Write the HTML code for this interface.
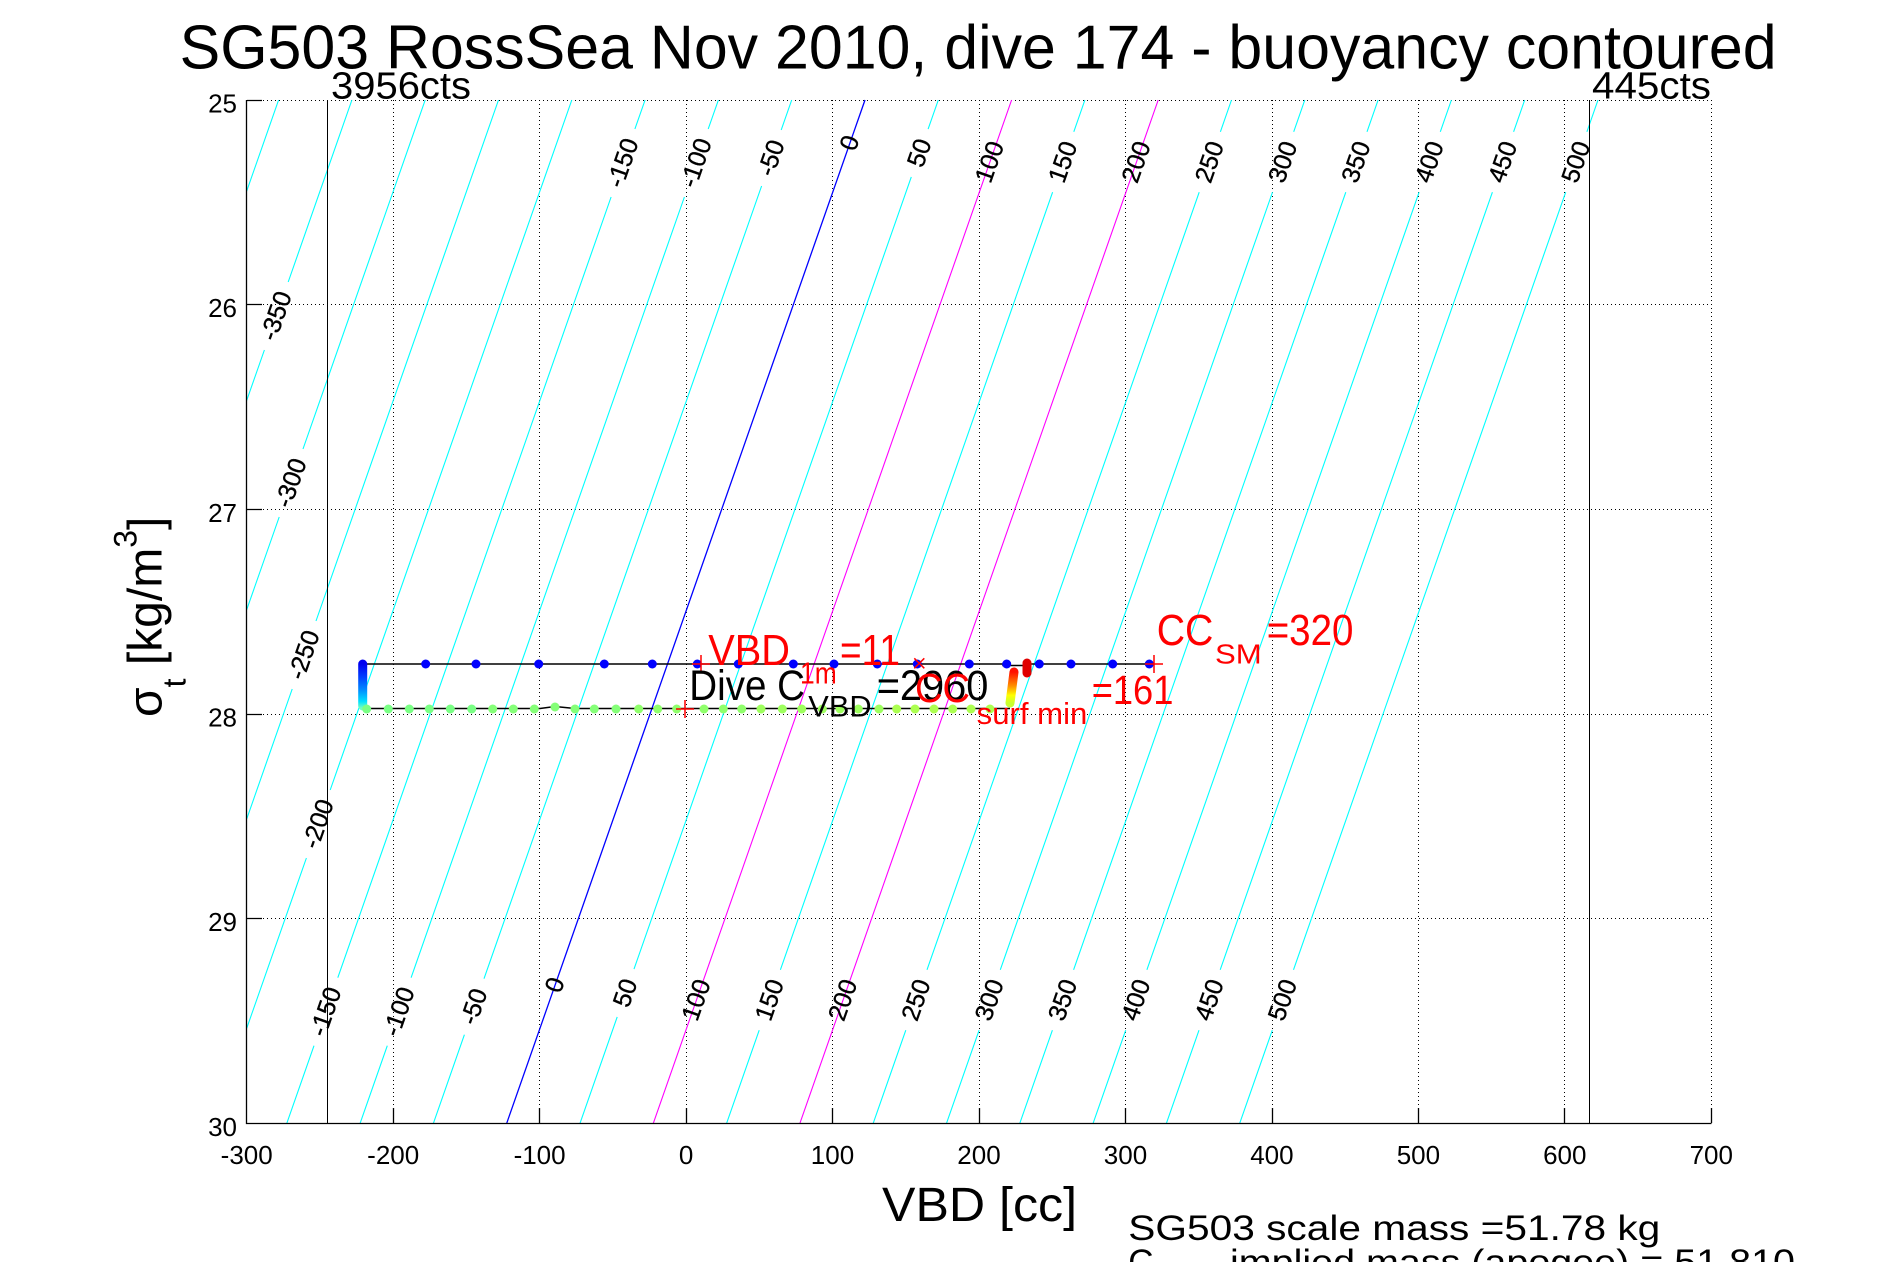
<!DOCTYPE html>
<html><head><meta charset="utf-8"><style>html,body{margin:0;padding:0;background:#fff;overflow:hidden}svg{display:block}</style></head>
<body>
<svg width="1891" height="1262" viewBox="0 0 1891 1262" xmlns="http://www.w3.org/2000/svg" font-family="'Liberation Sans', Arial, sans-serif">
<rect width="1891" height="1262" fill="#fff"/>
<defs>
<linearGradient id="gl" gradientUnits="userSpaceOnUse" x1="0" y1="664" x2="0" y2="708">
<stop offset="0" stop-color="#0000f0"/><stop offset="0.3" stop-color="#0040ff"/><stop offset="0.6" stop-color="#0090ff"/><stop offset="0.85" stop-color="#00e0ff"/><stop offset="1" stop-color="#70ffc0"/>
</linearGradient>
<linearGradient id="gr" gradientUnits="userSpaceOnUse" x1="0" y1="703" x2="0" y2="672">
<stop offset="0" stop-color="#c8ff30"/><stop offset="0.25" stop-color="#ffff00"/><stop offset="0.55" stop-color="#ff9000"/><stop offset="1" stop-color="#ff1000"/>
</linearGradient>
</defs>

<!-- grid -->
<g stroke="#000" stroke-width="1" stroke-dasharray="1 3" fill="none">
<path d="M393.5,100V1123 M539.5,100V1123 M686.5,100V1123 M832.5,100V1123 M979.5,100V1123 M1125.5,100V1123 M1272.5,100V1123 M1418.5,100V1123 M1564.5,100V1123 M1711.5,100V1123"/>
<path d="M247,100.5H1711 M247,304.5H1711 M247,509.5H1711 M247,714.5H1711 M247,918.5H1711"/>
</g>

<!-- cyan contours -->
<g stroke="#00ffff" stroke-width="1.1" fill="none">
<path d="M278.6,100 L246.7,191.1"/>
<path d="M351.9,100 L288.2,282 M264.4,350 L246.7,400.4"/>
<path d="M425.2,100 L303,449 M279.2,517 L246.7,609.7"/>
<path d="M498.5,100 L316,621 M292.2,689 L246.7,819"/>
<path d="M571.8,100 L330.2,790 M306.4,858 L246.7,1028.3"/>
<path d="M645.1,100 L634.9,129 M611.1,197 L337.8,977.7 M314,1045.7 L286.8,1123.3"/>
<path d="M718.4,100 L708.2,129 M684.4,197 L411.1,977.7 M387.3,1045.7 L360.1,1123.3"/>
<path d="M791.7,100 L781.2,130 M761.6,186 L484,978.7 M464.4,1034.7 L433.4,1123.3"/>
<path d="M938.3,100 L928.1,129.1 M911.3,176.9 L634,969.1 M617.2,1016.9 L580,1123.3"/>
<path d="M1084.9,100 L1073.8,131.8 M1052.6,192.2 L780.4,969.8 M759.2,1030.2 L726.6,1123.3"/>
<path d="M1231.5,100 L1220.4,131.8 M1199.2,192.2 L927,969.8 M905.8,1030.2 L873.2,1123.3"/>
<path d="M1304.8,100 L1293.7,131.8 M1272.5,192.2 L1000.3,969.8 M979.1,1030.2 L946.5,1123.3"/>
<path d="M1378.1,100 L1367,131.8 M1345.8,192.2 L1073.6,969.8 M1052.4,1030.2 L1019.8,1123.3"/>
<path d="M1451.4,100 L1440.3,131.8 M1419.1,192.2 L1146.9,969.8 M1125.7,1030.2 L1093.1,1123.3"/>
<path d="M1524.7,100 L1513.6,131.8 M1492.4,192.2 L1220.2,969.8 M1199,1030.2 L1166.4,1123.3"/>
<path d="M1598,100 L1586.9,131.8 M1565.7,192.2 L1293.5,969.8 M1272.3,1030.2 L1239.7,1123.3"/>
</g>
<path d="M865,100 L506.7,1123.3" stroke="#0000ff" stroke-width="1.3" fill="none"/>
<path d="M1011.6,100 L653.3,1123.3 M1158.2,100 L799.9,1123.3" stroke="#ff00ff" stroke-width="1.1" fill="none"/>

<!-- contour labels -->
<g font-size="25" fill="#000" stroke="#000" stroke-width="0.35" text-anchor="middle">
<text transform="translate(276.3 316) rotate(-70.7)" dy="8">-350</text>
<text transform="translate(291.1 483) rotate(-70.7)" dy="8">-300</text>
<text transform="translate(304.1 655) rotate(-70.7)" dy="8">-250</text>
<text transform="translate(318.3 824) rotate(-70.7)" dy="8">-200</text>
<text transform="translate(623 163) rotate(-70.7)" dy="8">-150</text>
<text transform="translate(696.3 163) rotate(-70.7)" dy="8">-100</text>
<text transform="translate(771.4 158) rotate(-70.7)" dy="8">-50</text>
<text transform="translate(849.9 143) rotate(-70.7)" dy="8">0</text>
<text transform="translate(919.7 153) rotate(-70.7)" dy="8">50</text>
<text transform="translate(989.9 162) rotate(-70.7)" dy="8">100</text>
<text transform="translate(1063.2 162) rotate(-70.7)" dy="8">150</text>
<text transform="translate(1136.5 162) rotate(-70.7)" dy="8">200</text>
<text transform="translate(1209.8 162) rotate(-70.7)" dy="8">250</text>
<text transform="translate(1283.1 162) rotate(-70.7)" dy="8">300</text>
<text transform="translate(1356.4 162) rotate(-70.7)" dy="8">350</text>
<text transform="translate(1429.7 162) rotate(-70.7)" dy="8">400</text>
<text transform="translate(1503 162) rotate(-70.7)" dy="8">450</text>
<text transform="translate(1576.3 162) rotate(-70.7)" dy="8">500</text>
<text transform="translate(325.9 1011.7) rotate(-70.7)" dy="8">-150</text>
<text transform="translate(399.2 1011.7) rotate(-70.7)" dy="8">-100</text>
<text transform="translate(474.2 1006.7) rotate(-70.7)" dy="8">-50</text>
<text transform="translate(555.1 985) rotate(-70.7)" dy="8">0</text>
<text transform="translate(625.6 993) rotate(-70.7)" dy="8">50</text>
<text transform="translate(696.5 1000) rotate(-70.7)" dy="8">100</text>
<text transform="translate(769.8 1000) rotate(-70.7)" dy="8">150</text>
<text transform="translate(843.1 1000) rotate(-70.7)" dy="8">200</text>
<text transform="translate(916.4 1000) rotate(-70.7)" dy="8">250</text>
<text transform="translate(989.7 1000) rotate(-70.7)" dy="8">300</text>
<text transform="translate(1063 1000) rotate(-70.7)" dy="8">350</text>
<text transform="translate(1136.3 1000) rotate(-70.7)" dy="8">400</text>
<text transform="translate(1209.6 1000) rotate(-70.7)" dy="8">450</text>
<text transform="translate(1282.9 1000) rotate(-70.7)" dy="8">500</text>
</g>

<!-- vertical count lines -->
<path d="M327.5,100V1123 M1589.5,100V1123" stroke="#000" stroke-width="1" fill="none"/>

<!-- axes -->
<g stroke="#000" stroke-width="1.3" fill="none">
<path d="M246.5,100V1123.5H1711.5"/>
<path d="M393.5,1123V1108 M539.5,1123V1108 M686.5,1123V1108 M832.5,1123V1108 M979.5,1123V1108 M1125.5,1123V1108 M1272.5,1123V1108 M1418.5,1123V1108 M1564.5,1123V1108 M1711.5,1123V1108"/>
<path d="M247,100.5H262 M247,304.5H262 M247,509.5H262 M247,714.5H262 M247,918.5H262"/>
</g>

<!-- tick labels -->
<g font-size="26" fill="#000" text-anchor="middle">
<text x="246.7" y="1164">-300</text>
<text x="393.2" y="1164">-200</text>
<text x="539.6" y="1164">-100</text>
<text x="686.1" y="1164">0</text>
<text x="832.5" y="1164">100</text>
<text x="979" y="1164">200</text>
<text x="1125.5" y="1164">300</text>
<text x="1271.9" y="1164">400</text>
<text x="1418.4" y="1164">500</text>
<text x="1564.8" y="1164">600</text>
<text x="1711.3" y="1164">700</text>
</g>
<g font-size="26" fill="#000" text-anchor="end">
<text x="237" y="112.5">25</text>
<text x="237" y="317.2">26</text>
<text x="237" y="521.8">27</text>
<text x="237" y="726.5">28</text>
<text x="237" y="931.2">29</text>
<text x="237" y="1135.8">30</text>
</g>

<!-- data trace -->
<path d="M362.7,664 H1003 V665.5 H1025 V664 H1154" stroke="#000" stroke-width="1.5" fill="none"/>
<path d="M362.7,708.5 H540 L555,706.5 L575,708.5 H1010" stroke="#000" stroke-width="1.5" fill="none"/>
<line x1="362.7" y1="664" x2="362.7" y2="706" stroke="url(#gl)" stroke-width="9" stroke-linecap="round"/>
<g fill="#0000ff">
<circle cx="425.7" cy="664" r="4.5"/><circle cx="476" cy="664" r="4.5"/><circle cx="538.7" cy="664" r="4.5"/><circle cx="604.3" cy="664" r="4.5"/><circle cx="652.3" cy="664" r="4.5"/><circle cx="697.3" cy="664" r="4.5"/><circle cx="738.3" cy="664" r="4.5"/><circle cx="793.3" cy="664" r="4.5"/><circle cx="834" cy="664" r="4.5"/><circle cx="877.3" cy="664" r="4.5"/><circle cx="917.3" cy="664" r="4.5"/><circle cx="969.3" cy="664" r="4.5"/><circle cx="1006.7" cy="664" r="4.5"/><circle cx="1039.3" cy="664" r="4.5"/><circle cx="1071" cy="664" r="4.5"/><circle cx="1112.7" cy="664" r="4.5"/><circle cx="1149.3" cy="664" r="4.5"/>
</g>
<g>
<circle cx="366.7" cy="709" r="4.5" fill="#7aff85"/><circle cx="388.3" cy="709" r="4.5" fill="#7aff85"/><circle cx="409.3" cy="709" r="4.5" fill="#7aff85"/><circle cx="429.3" cy="709" r="4.5" fill="#7aff85"/><circle cx="450.3" cy="709" r="4.5" fill="#7aff85"/><circle cx="471.7" cy="709" r="4.5" fill="#7aff85"/>
<circle cx="492.7" cy="709" r="4.5" fill="#85ff78"/><circle cx="513.3" cy="709" r="4.5" fill="#85ff78"/><circle cx="534.3" cy="709" r="4.5" fill="#85ff78"/><circle cx="555" cy="707" r="4.5" fill="#85ff78"/><circle cx="575" cy="709" r="4.5" fill="#85ff78"/><circle cx="594.3" cy="709" r="4.5" fill="#85ff78"/><circle cx="616" cy="709" r="4.5" fill="#85ff78"/>
<circle cx="638.7" cy="709" r="4.5" fill="#90ff6c"/><circle cx="657.7" cy="709" r="4.5" fill="#90ff6c"/><circle cx="676.7" cy="709" r="4.5" fill="#90ff6c"/><circle cx="704" cy="709" r="4.5" fill="#90ff6c"/><circle cx="723.3" cy="709" r="4.5" fill="#90ff6c"/><circle cx="741.7" cy="709" r="4.5" fill="#90ff6c"/>
<circle cx="761" cy="709" r="4.5" fill="#9eff5e"/><circle cx="782.3" cy="709" r="4.5" fill="#9eff5e"/><circle cx="801.7" cy="709" r="4.5" fill="#9eff5e"/><circle cx="822.3" cy="709" r="4.5" fill="#9eff5e"/><circle cx="840" cy="709" r="4.5" fill="#9eff5e"/><circle cx="858.3" cy="709" r="4.5" fill="#9eff5e"/><circle cx="879" cy="709" r="4.5" fill="#9eff5e"/>
<circle cx="896.7" cy="709" r="4.5" fill="#acff50"/><circle cx="915" cy="709" r="4.5" fill="#acff50"/><circle cx="934" cy="709" r="4.5" fill="#acff50"/><circle cx="952.7" cy="709" r="4.5" fill="#acff50"/><circle cx="971" cy="709" r="4.5" fill="#acff50"/><circle cx="990" cy="709" r="4.5" fill="#acff50"/>
</g>
<line x1="1010" y1="703" x2="1014" y2="672" stroke="url(#gr)" stroke-width="9" stroke-linecap="round"/>
<line x1="1027" y1="663" x2="1027" y2="673" stroke="#e00000" stroke-width="9" stroke-linecap="round"/>

<!-- red markers -->
<g stroke="#ff0000" stroke-width="1.5" fill="none">
<path d="M692,664H710 M701,655V673"/>
<path d="M676,709H694 M685,700V718"/>
<path d="M1145,664H1163 M1154,655V673"/>
<path d="M914.3,658.3L924.3,668.3 M914.3,668.3L924.3,658.3"/>
</g>

<!-- annotations -->
<text x="689.3" y="700" font-size="43" fill="#000" textLength="115.7" lengthAdjust="spacingAndGlyphs">Dive C</text>
<text x="808.3" y="716.7" font-size="30" fill="#000" textLength="63.3" lengthAdjust="spacingAndGlyphs">VBD</text>
<text x="876.7" y="700" font-size="43" fill="#000" textLength="111.7" lengthAdjust="spacingAndGlyphs">=2960</text>

<text x="708.3" y="665" font-size="44" fill="#ff0000" textLength="81.7" lengthAdjust="spacingAndGlyphs">VBD</text>
<text x="800" y="683.3" font-size="31" fill="#ff0000" textLength="36.7" lengthAdjust="spacingAndGlyphs">1m</text>
<text x="840" y="665" font-size="44" fill="#ff0000" textLength="60" lengthAdjust="spacingAndGlyphs">=11</text>

<text x="915" y="702" font-size="41" fill="#ff0000" textLength="55" lengthAdjust="spacingAndGlyphs">CC</text>
<text x="976.7" y="724" font-size="31" fill="#ff0000" textLength="110.6" lengthAdjust="spacingAndGlyphs">surf min</text>
<text x="1091.7" y="704" font-size="41" fill="#ff0000" textLength="81.7" lengthAdjust="spacingAndGlyphs">=161</text>

<text x="1156.7" y="645" font-size="44" fill="#ff0000" textLength="56.7" lengthAdjust="spacingAndGlyphs">CC</text>
<text x="1215" y="663.3" font-size="28" fill="#ff0000" textLength="46.7" lengthAdjust="spacingAndGlyphs">SM</text>
<text x="1266.7" y="645" font-size="44" fill="#ff0000" textLength="86.7" lengthAdjust="spacingAndGlyphs">=320</text>

<!-- title and labels -->
<text x="179.6" y="68.3" font-size="62" fill="#000" textLength="1597" lengthAdjust="spacingAndGlyphs">SG503 RossSea Nov 2010, dive 174 - buoyancy contoured</text>
<text x="331" y="98.3" font-size="38" fill="#000" textLength="140" lengthAdjust="spacingAndGlyphs">3956cts</text>
<text x="1592" y="98.3" font-size="38" fill="#000" textLength="119" lengthAdjust="spacingAndGlyphs">445cts</text>

<text x="882" y="1221" font-size="48" fill="#000" textLength="195" lengthAdjust="spacingAndGlyphs">VBD [cc]</text>

<g transform="translate(161.7 614) rotate(-90)">
<text x="-103" y="0" font-size="48" fill="#000">σ<tspan font-size="32" dy="24">t</tspan><tspan dy="-24"> [kg/m</tspan><tspan font-size="32" dy="-25">3</tspan><tspan dy="25">]</tspan></text>
</g>

<text x="1128.3" y="1240" font-size="35" fill="#000" textLength="532" lengthAdjust="spacingAndGlyphs">SG503 scale mass =51.78 kg</text>
<text x="1128.3" y="1274" font-size="35" fill="#000">C</text>
<text x="1155" y="1288" font-size="24" fill="#000">VBD</text>
<text x="1230" y="1274" font-size="35" fill="#000" textLength="565" lengthAdjust="spacingAndGlyphs">implied mass (apogee) = 51.810</text>
</svg>
</body></html>
